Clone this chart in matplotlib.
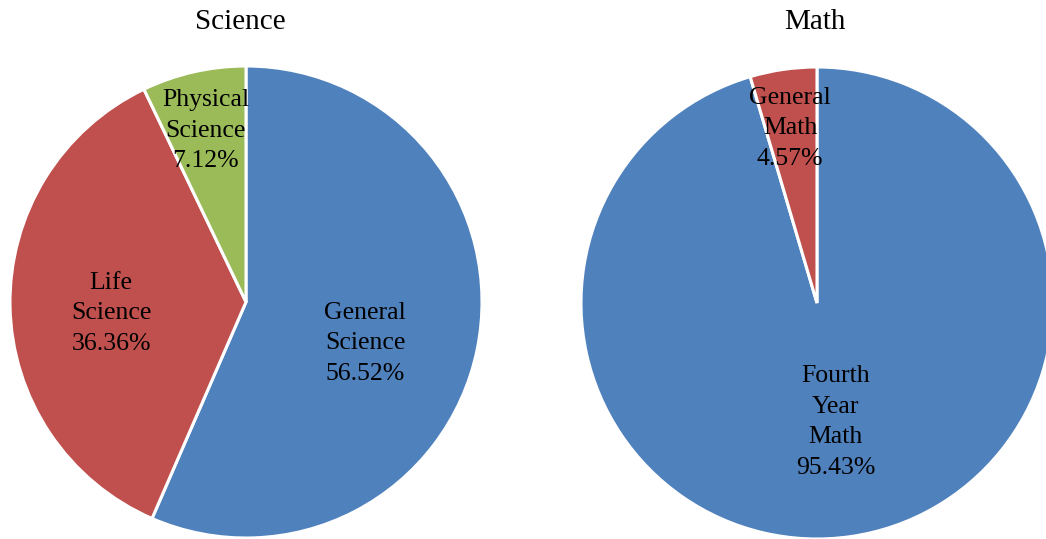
import matplotlib
matplotlib.use("Agg")
import matplotlib.pyplot as plt

plt.rcParams['font.family'] = ['Liberation Serif', 'DejaVu Serif']

sci_labels = ["General\nScience", "Life\nScience", "Physical\nScience"]
sci_values = [56.52, 36.36, 7.12]
math_labels = ["Fourth\nYear\nMath", "General\nMath"]
math_values = [95.43, 4.57]

blue, red, green = "#4F81BD", "#C0504D", "#9BBB59"

W, H = 1046, 539
fig = plt.figure(figsize=(W / 100, H / 100), dpi=100)

def make_ax(cx, cy, r):
    return fig.add_axes([(cx - r) / W, (H - cy - r) / H, 2 * r / W, 2 * r / H])

R = 236
ax1 = make_ax(246, 302, R)
ax2 = make_ax(817, 303, R)

def draw(ax, values, labels, colors, label_pos):
    ax.pie(values, colors=colors, startangle=90, counterclock=False,
           radius=1.0, wedgeprops=dict(edgecolor="white", linewidth=2.2))
    ax.set_xlim(-1, 1)
    ax.set_ylim(-1, 1)
    ax.set_aspect("equal")
    ax.axis("off")
    for lab, v, (x, y) in zip(labels, values, label_pos):
        ax.text(x, y, f"{lab}\n{v:.2f}%", ha="center", va="center", fontsize=18.5,
                linespacing=1.5, color="black")

draw(ax1, sci_values, sci_labels, [blue, red, green],
     [(0.504, -0.174), (-0.572, -0.047), (-0.17, 0.725)])
draw(ax2, math_values, math_labels, [blue, red],
     [(0.08, -0.504), (-0.114, 0.74)])

fig.text(240 / W, 1 - 22 / H, "Science", ha="center", va="center", fontsize=21)
fig.text(815 / W, 1 - 22 / H, "Math", ha="center", va="center", fontsize=21)

fig.savefig("out.png", dpi=100)
